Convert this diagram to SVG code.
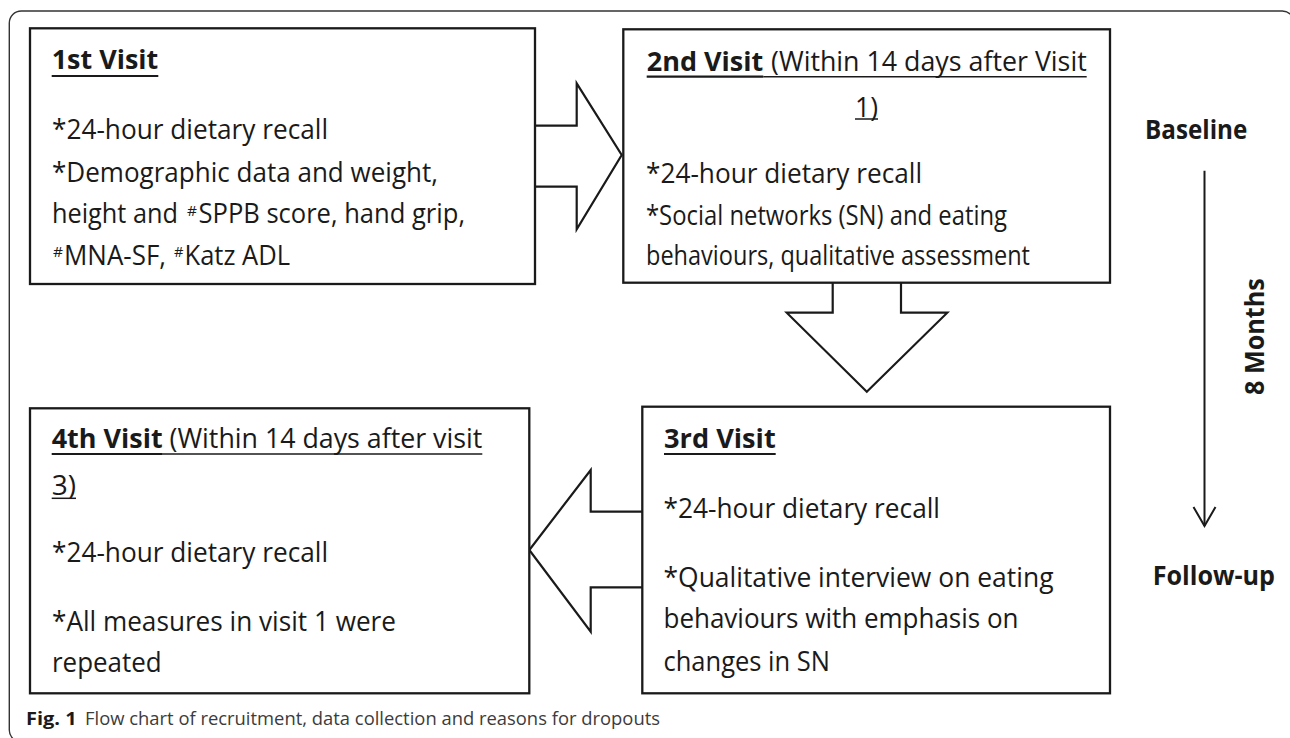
<svg xmlns="http://www.w3.org/2000/svg" width="1290" height="738" viewBox="0 0 1290 738">
<style>
  .frame{fill:none;stroke:#333;stroke-width:1.4}
  .box{fill:#fff;stroke:#1a1a1a;stroke-width:2.3}
  .arr{fill:none;stroke:#1a1a1a;stroke-width:2.2;stroke-linejoin:miter}
  .tl{fill:none;stroke:#1a1a1a;stroke-width:2}
  .t{font-family:"Open Sans","Lato","Liberation Sans",sans-serif;font-size:27px;fill:#1a1a1a}
  .b{font-family:"Open Sans","Lato","Liberation Sans",sans-serif;font-size:27px;font-weight:bold;fill:#1a1a1a}
  .sup{font-family:"Open Sans","Lato","Liberation Sans",sans-serif;font-size:15px;fill:#1a1a1a}
  .ulb{stroke:#1a1a1a;stroke-width:2.2}
  .ul{stroke:#1a1a1a;stroke-width:1.5}
  .cap{font-family:"Open Sans","Liberation Sans",sans-serif;font-size:18px;fill:#3c3c3c}
  .capb{font-family:"Open Sans","Liberation Sans",sans-serif;font-size:18px;font-weight:bold;fill:#1a1a1a}
</style>
<rect class="frame" x="9.3" y="11" width="1285" height="731" rx="12"/>

<g id="connectors">
  <path class="arr" d="M535,125.7 H576.7 V83.3 L621.7,155 L576.7,229.3 V186.7 H535"/>
  <path class="arr" d="M832.7,282.7 V312.7 H786.7 L866.8,391.7 L947.3,312.7 H901 V282.7"/>
  <path class="arr" d="M642.3,511.7 H590.7 V470 L529.3,550 L590.7,631.7 V587.3 H642.3"/>
  <line class="tl" x1="1204.5" y1="170.7" x2="1204.5" y2="526"/>
  <polyline class="tl" points="1193.5,507 1204.5,526 1215.5,507"/>
</g>

<g id="visit1">
  <rect class="box" x="30" y="28.3" width="505" height="255.7"/>
  <text class="b" x="51.7" y="69.3" textLength="106.6" lengthAdjust="spacingAndGlyphs">1st Visit</text>
  <line class="ulb" x1="51.7" y1="76" x2="158.3" y2="76"/>
  <text class="t" x="52" y="139.3" textLength="276" lengthAdjust="spacingAndGlyphs">*24-hour dietary recall</text>
  <text class="t" x="52" y="181.7" textLength="386" lengthAdjust="spacingAndGlyphs">*Demographic data and weight,</text>
  <text class="t" x="52" y="222.7" textLength="126" lengthAdjust="spacingAndGlyphs">height and</text>
  <text class="sup" x="187" y="215.5" textLength="10" lengthAdjust="spacingAndGlyphs">#</text>
  <text class="t" x="198.5" y="222.7" textLength="266.5" lengthAdjust="spacingAndGlyphs">SPPB score, hand grip,</text>
  <text class="sup" x="53" y="257.3" textLength="10" lengthAdjust="spacingAndGlyphs">#</text>
  <text class="t" x="64" y="265" textLength="102" lengthAdjust="spacingAndGlyphs">MNA-SF,</text>
  <text class="sup" x="174" y="257.3" textLength="9.5" lengthAdjust="spacingAndGlyphs">#</text>
  <text class="t" x="184.5" y="265" textLength="105.5" lengthAdjust="spacingAndGlyphs">Katz ADL</text>
</g>

<g id="visit2">
  <rect class="box" x="623.3" y="29.3" width="486.7" height="253.4"/>
  <text class="b" x="646.7" y="71" textLength="116.6" lengthAdjust="spacingAndGlyphs">2nd Visit</text>
  <text class="t" x="771" y="71" textLength="315.7" lengthAdjust="spacingAndGlyphs">(Within 14 days after Visit</text>
  <line class="ulb" x1="646.7" y1="76.7" x2="763.3" y2="76.7"/>
  <line class="ul" x1="763.3" y1="76.7" x2="1086.7" y2="76.7"/>
  <text class="t" x="855" y="116.7" textLength="23" lengthAdjust="spacingAndGlyphs">1)</text>
  <line class="ul" x1="855" y1="119" x2="878" y2="119"/>
  <text class="t" x="646" y="182.7" textLength="276" lengthAdjust="spacingAndGlyphs">*24-hour dietary recall</text>
  <text class="t" x="646" y="225" textLength="361" lengthAdjust="spacingAndGlyphs">*Social networks (SN) and eating</text>
  <text class="t" x="646" y="265" textLength="384" lengthAdjust="spacingAndGlyphs">behaviours, qualitative assessment</text>
</g>

<g id="visit3">
  <rect class="box" x="642.3" y="406.7" width="467.7" height="286.6"/>
  <text class="b" x="664" y="447.7" textLength="111.7" lengthAdjust="spacingAndGlyphs">3rd Visit</text>
  <line class="ulb" x1="664" y1="454" x2="775.7" y2="454"/>
  <text class="t" x="663.5" y="518.3" textLength="276.5" lengthAdjust="spacingAndGlyphs">*24-hour dietary recall</text>
  <text class="t" x="663.5" y="586.7" textLength="390" lengthAdjust="spacingAndGlyphs">*Qualitative interview on eating</text>
  <text class="t" x="663.5" y="628.3" textLength="355" lengthAdjust="spacingAndGlyphs">behaviours with emphasis on</text>
  <text class="t" x="663.5" y="670.7" textLength="166.5" lengthAdjust="spacingAndGlyphs">changes in SN</text>
</g>

<g id="visit4">
  <rect class="box" x="30" y="408.3" width="499.3" height="285"/>
  <text class="b" x="51.7" y="448.3" textLength="111" lengthAdjust="spacingAndGlyphs">4th Visit</text>
  <text class="t" x="169.5" y="448.3" textLength="312.8" lengthAdjust="spacingAndGlyphs">(Within 14 days after visit</text>
  <line class="ulb" x1="51.7" y1="454" x2="162.7" y2="454"/>
  <line class="ul" x1="162.7" y1="454" x2="482.3" y2="454"/>
  <text class="t" x="51.7" y="495" textLength="24.3" lengthAdjust="spacingAndGlyphs">3)</text>
  <line class="ul" x1="51.7" y1="498.3" x2="76" y2="498.3"/>
  <text class="t" x="52" y="561.7" textLength="276" lengthAdjust="spacingAndGlyphs">*24-hour dietary recall</text>
  <text class="t" x="52" y="631" textLength="344" lengthAdjust="spacingAndGlyphs">*All measures in visit 1 were</text>
  <text class="t" x="52" y="671.7" textLength="109.7" lengthAdjust="spacingAndGlyphs">repeated</text>
</g>

<g id="timeline-labels">
  <text class="b" x="1145" y="139.3" textLength="102.3" lengthAdjust="spacingAndGlyphs">Baseline</text>
  <text class="b" x="1152.7" y="585" textLength="122.3" lengthAdjust="spacingAndGlyphs">Follow-up</text>
  <text class="b" transform="translate(1264,395) rotate(-90)" x="0" y="0" textLength="116.7" lengthAdjust="spacingAndGlyphs">8 Months</text>
</g>

<g id="caption">
  <text class="capb" x="26" y="725" textLength="50.7" lengthAdjust="spacingAndGlyphs">Fig. 1</text>
  <text class="cap" x="85" y="725" textLength="575" lengthAdjust="spacingAndGlyphs">Flow chart of recruitment, data collection and reasons for dropouts</text>
</g>
</svg>
